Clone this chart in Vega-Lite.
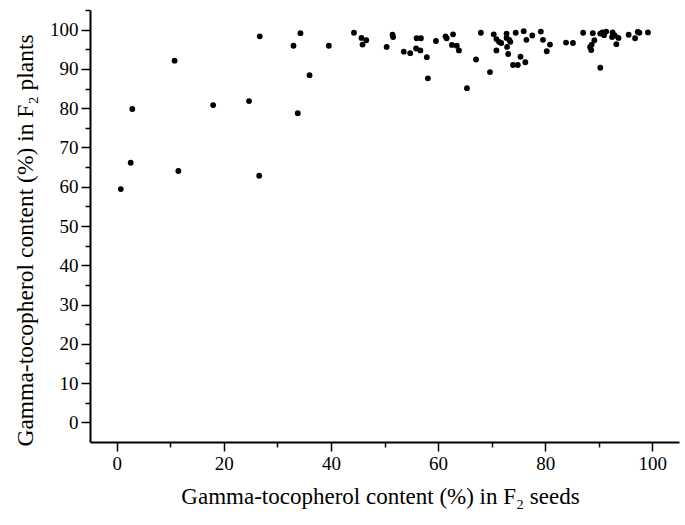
{
  "$schema": "https://vega.github.io/schema/vega-lite/v6.json",
  "autosize": "none",
  "width": 589,
  "height": 432,
  "padding": {"left": 90, "top": 10, "right": 6, "bottom": 83},
  "background": "white",
  "config": {
    "view": {"stroke": null},
    "font": "Liberation Serif",
    "axis": {
      "grid": false,
      "domainColor": "black",
      "domainWidth": 2,
      "tickColor": "black",
      "tickWidth": 1.5,
      "labelFont": "Liberation Serif",
      "labelFontSize": 19,
      "labelColor": "black",
      "titleFont": "Liberation Serif",
      "titleFontWeight": "normal",
      "titleColor": "black",
      "labelPadding": 3
    }
  },
  "data": {
    "values": [
      {"seed": 0.75, "plant": 59.4}, {"seed": 2.6, "plant": 66.1}, {"seed": 2.9, "plant": 79.8},
      {"seed": 10.8, "plant": 92.1}, {"seed": 11.5, "plant": 64.0}, {"seed": 18.0, "plant": 80.8},
      {"seed": 24.7, "plant": 81.8}, {"seed": 26.7, "plant": 98.3}, {"seed": 26.6, "plant": 62.8},
      {"seed": 33.0, "plant": 95.9}, {"seed": 34.3, "plant": 99.1}, {"seed": 33.8, "plant": 78.7},
      {"seed": 36.0, "plant": 88.4}, {"seed": 39.6, "plant": 95.9}, {"seed": 44.3, "plant": 99.2},
      {"seed": 45.7, "plant": 97.9}, {"seed": 46.6, "plant": 97.3}, {"seed": 45.9, "plant": 96.2},
      {"seed": 50.4, "plant": 95.6}, {"seed": 51.5, "plant": 98.7}, {"seed": 51.6, "plant": 98.1},
      {"seed": 53.6, "plant": 94.4}, {"seed": 54.8, "plant": 94.0}, {"seed": 56.0, "plant": 97.8},
      {"seed": 56.8, "plant": 97.8}, {"seed": 55.9, "plant": 95.2}, {"seed": 56.7, "plant": 94.7},
      {"seed": 57.9, "plant": 93.0}, {"seed": 58.1, "plant": 87.6}, {"seed": 59.6, "plant": 97.1},
      {"seed": 61.4, "plant": 98.3}, {"seed": 61.6, "plant": 97.8}, {"seed": 62.8, "plant": 98.8},
      {"seed": 62.6, "plant": 96.1}, {"seed": 63.5, "plant": 95.9}, {"seed": 63.9, "plant": 94.7},
      {"seed": 65.4, "plant": 85.1}, {"seed": 67.1, "plant": 92.4}, {"seed": 68.0, "plant": 99.2},
      {"seed": 69.7, "plant": 89.2}, {"seed": 70.4, "plant": 98.8}, {"seed": 70.9, "plant": 97.6},
      {"seed": 71.4, "plant": 96.9}, {"seed": 71.8, "plant": 96.6}, {"seed": 70.9, "plant": 94.7},
      {"seed": 72.8, "plant": 99.0}, {"seed": 72.8, "plant": 97.9}, {"seed": 73.3, "plant": 97.4},
      {"seed": 73.5, "plant": 96.9}, {"seed": 72.9, "plant": 95.6}, {"seed": 73.1, "plant": 93.8},
      {"seed": 74.5, "plant": 99.2}, {"seed": 76.0, "plant": 99.6}, {"seed": 76.5, "plant": 97.4},
      {"seed": 77.6, "plant": 98.5}, {"seed": 75.4, "plant": 93.1}, {"seed": 74.0, "plant": 91.0},
      {"seed": 74.9, "plant": 91.0}, {"seed": 76.3, "plant": 91.7}, {"seed": 79.2, "plant": 99.5},
      {"seed": 79.6, "plant": 97.4}, {"seed": 80.9, "plant": 96.2}, {"seed": 80.3, "plant": 94.5},
      {"seed": 83.9, "plant": 96.7}, {"seed": 85.2, "plant": 96.6}, {"seed": 87.1, "plant": 99.2},
      {"seed": 88.9, "plant": 99.1}, {"seed": 89.2, "plant": 97.3}, {"seed": 88.7, "plant": 96.2},
      {"seed": 88.4, "plant": 95.6}, {"seed": 88.6, "plant": 94.8}, {"seed": 90.3, "plant": 99.0},
      {"seed": 90.7, "plant": 99.3}, {"seed": 91.4, "plant": 99.5}, {"seed": 91.0, "plant": 98.6},
      {"seed": 92.6, "plant": 99.3}, {"seed": 92.5, "plant": 98.1}, {"seed": 93.0, "plant": 98.5},
      {"seed": 93.7, "plant": 97.9}, {"seed": 93.3, "plant": 96.3}, {"seed": 95.6, "plant": 98.7},
      {"seed": 97.3, "plant": 99.4}, {"seed": 97.6, "plant": 99.2}, {"seed": 96.8, "plant": 97.8},
      {"seed": 99.2, "plant": 99.3}, {"seed": 90.3, "plant": 90.3}
    ]
  },
  "mark": {"type": "circle", "color": "black", "opacity": 1, "size": 34},
  "encoding": {
    "x": {
      "field": "seed",
      "type": "quantitative",
      "scale": {"domain": [-5, 105], "nice": false, "zero": false},
      "axis": {
        "title": "Gamma-tocopherol content (%) in F₂ seeds",
        "titleFontSize": 23,
        "titleX": 290,
        "values": [0, 10, 20, 30, 40, 50, 60, 70, 80, 90, 100],
        "labelExpr": "datum.value % 20 === 0 ? datum.label : ''",
        "tickSize": {"condition": {"test": "datum.value % 20 === 0", "value": 9}, "value": 5},
        "titlePadding": 12
      }
    },
    "y": {
      "field": "plant",
      "type": "quantitative",
      "scale": {"domain": [-5, 105], "nice": false, "zero": false},
      "axis": {
        "title": "Gamma-tocopherol content (%) in F₂ plants",
        "titleFontSize": 23.5,
        "titleY": 230,
        "values": [0, 5, 10, 15, 20, 25, 30, 35, 40, 45, 50, 55, 60, 65, 70, 75, 80, 85, 90, 95, 100, 105],
        "labelExpr": "datum.value % 10 === 0 && datum.value <= 100 ? datum.label : ''",
        "tickSize": {"condition": {"test": "datum.value % 10 === 0 && datum.value <= 100", "value": 9}, "value": 5},
        "titlePadding": 12
      }
    }
  }
}
